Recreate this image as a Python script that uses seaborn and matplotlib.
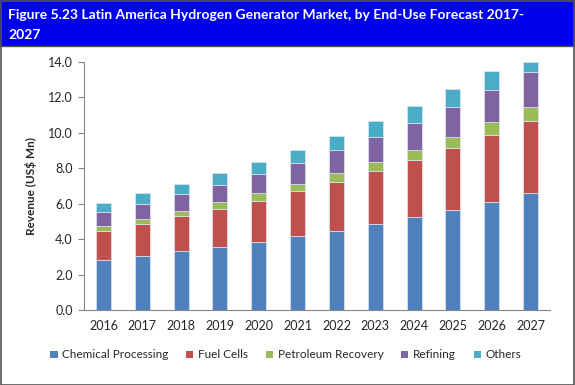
import pandas as pd
import numpy as np
import matplotlib.pyplot as plt
import seaborn as sns
from matplotlib.patches import Rectangle, Patch

# Data (US$ Mn)
years = ['2016', '2017', '2018', '2019', '2020', '2021',
         '2022', '2023', '2024', '2025', '2026', '2027']
chemical = [2.83, 3.05, 3.32, 3.56, 3.84, 4.16, 4.48, 4.86, 5.24, 5.65, 6.09, 6.58]
fuel_cells = [1.64, 1.81, 1.97, 2.15, 2.32, 2.53, 2.76, 2.96, 3.22, 3.51, 3.80, 4.10]
petroleum = [0.30, 0.28, 0.31, 0.36, 0.42, 0.41, 0.47, 0.51, 0.58, 0.62, 0.70, 0.78]
refining = [0.77, 0.87, 0.94, 1.01, 1.09, 1.21, 1.32, 1.43, 1.53, 1.68, 1.81, 1.97]
others = [0.51, 0.57, 0.60, 0.65, 0.70, 0.75, 0.79, 0.89, 0.94, 1.03, 1.11, 0.57]

series = ['Chemical Processing', 'Fuel Cells', 'Petroleum Recovery', 'Refining', 'Others']
colors = ['#4F81BD', '#C0504D', '#9BBB59', '#8064A2', '#4BACC6']
values = [chemical, fuel_cells, petroleum, refining, others]

df = pd.DataFrame({'year': years})
for name, vals in zip(series, values):
    df[name] = vals

sns.set_style('white')
plt.rcParams['font.family'] = ['Lato', 'DejaVu Sans']

fig = plt.figure(figsize=(5.75, 3.85), dpi=100)
W, H = 575, 385

# title bar and frame
fig.patches.append(Rectangle((0, (H - 46) / H), 1, 46 / H, transform=fig.transFigure,
                             facecolor='#0000EE', edgecolor='none', zorder=0))
fig.patches.append(Rectangle((0.5 / W, 0.5 / H), 1 - 1.5 / W, 1 - 1.5 / H, transform=fig.transFigure,
                             facecolor='none', edgecolor='#555555', linewidth=1.2, zorder=5))
fig.lines.append(plt.Line2D([0, 1], [(H - 46) / H] * 2, transform=fig.transFigure,
                            color='#555555', linewidth=1.0))
fig.text(8 / W, (H - 15) / H, 'Figure 5.23 Latin America Hydrogen Generator Market, by End-Use Forecast 2017-',
         color='white', fontsize=10, fontweight='bold', va='center', ha='left')
fig.text(8 / W, (H - 35) / H, '2027',
         color='white', fontsize=10, fontweight='bold', va='center', ha='left')

ax = fig.add_axes([84 / W, (H - 310) / H, 466 / W, 248 / H])
bottom = np.zeros(len(years))
for name, col in zip(series, colors):
    sns.barplot(data=df, x='year', y=name, color=col, saturation=1, bottom=bottom, width=0.39,
                edgecolor='#dce6f2', linewidth=0.5, ax=ax, zorder=2)
    bottom = bottom + df[name].to_numpy()

ax.set_ylim(0, 14)
ax.set_yticks(np.arange(0, 14.1, 2))
ax.set_yticklabels([f'{v:.1f}' for v in np.arange(0, 14.1, 2)], fontsize=9)
ax.set_xlim(-0.5, len(years) - 0.5)
ax.set_xticks(range(len(years)))
ax.set_xticklabels(years, fontsize=9)
ax.set_xticks(np.arange(-0.5, len(years), 1), minor=True)
ax.tick_params(axis='x', which='major', length=0, pad=7)
ax.tick_params(axis='x', which='minor', length=4, color='#868686', width=0.8, direction='out')
ax.tick_params(axis='y', length=4, color='#868686', width=0.8, direction='out', left=True, pad=4)
ax.set_xlabel('')
ax.set_ylabel('Revenue (US$ Mn)', fontsize=8.5, fontweight='bold', labelpad=8)
for s in ['top', 'right']:
    ax.spines[s].set_visible(False)
for s in ['left', 'bottom']:
    ax.spines[s].set_color('#868686')
    ax.spines[s].set_linewidth(0.8)

handles = [Patch(facecolor=c, edgecolor='none') for c in colors]
fig.legend(handles, series, loc='center', bbox_to_anchor=(0.497, (H - 355) / H), ncol=5,
           frameon=False, fontsize=8.5, handlelength=0.6, handleheight=0.6,
           handletextpad=0.4, columnspacing=1.5)

fig.savefig('out.png', dpi=100)
